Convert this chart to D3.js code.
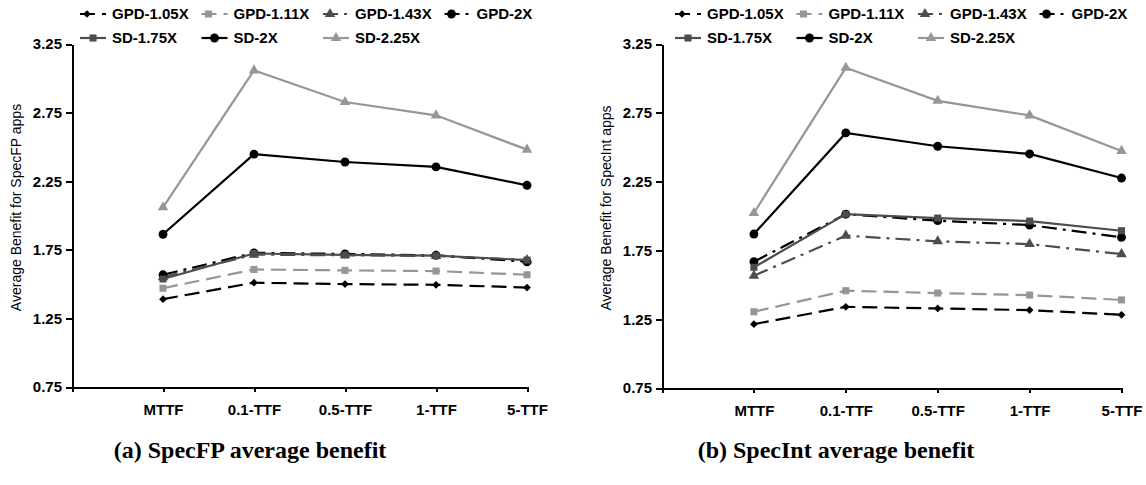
<!DOCTYPE html>
<html>
<head>
<meta charset="utf-8">
<script src="https://cdn.jsdelivr.net/npm/d3@7"></script>
<style>
    body { margin: 0; background: #fff; }
    svg text { font-family: 'Liberation Sans', Arial, sans-serif; fill: #000; }
    .axis path, .axis line { stroke: #000; stroke-width: 2px; shape-rendering: crispEdges; }
    .axis text { font-size: 15px; font-weight: bold; }
    .legendText { font-size: 15px; font-weight: bold; }
    .yLabel { font-size: 14px; }
    .caption { font-family: 'Liberation Serif', 'Times New Roman', serif !important; font-size: 24px; font-weight: bold; }
</style>
</head>
<body>
<div id="chart"></div>
<script>
'use strict';

// Categories and ticks
const categories = ['MTTF', '0.1-TTF', '0.5-TTF', '1-TTF', '5-TTF'];
const yTicks = [0.75, 1.25, 1.75, 2.25, 2.75, 3.25];
const seriesNames = ['GPD-1.05X', 'GPD-1.11X', 'GPD-1.43X', 'GPD-2X', 'SD-1.75X', 'SD-2X', 'SD-2.25X'];

// SpecFP values
const fpGpd105 = [1.39, 1.51, 1.50, 1.495, 1.475];
const fpGpd111 = [1.47, 1.607, 1.60, 1.595, 1.568];
const fpGpd143 = [1.55, 1.715, 1.71, 1.705, 1.675];
const fpGpd2 = [1.568, 1.728, 1.72, 1.71, 1.663];
const fpSd175 = [1.537, 1.723, 1.713, 1.707, 1.675];
const fpSd2 = [1.863, 2.447, 2.39, 2.354, 2.22];
const fpSd225 = [2.06, 3.058, 2.827, 2.73, 2.48];

// SpecInt values
const intGpd105 = [1.214, 1.34, 1.328, 1.316, 1.282];
const intGpd111 = [1.304, 1.457, 1.44, 1.425, 1.39];
const intGpd143 = [1.566, 1.857, 1.816, 1.796, 1.723];
const intGpd2 = [1.668, 2.013, 1.966, 1.934, 1.845];
const intSd175 = [1.627, 2.014, 1.985, 1.963, 1.893];
const intSd2 = [1.869, 2.604, 2.507, 2.451, 2.276];
const intSd225 = [2.022, 3.077, 2.837, 2.731, 2.473];

// Look of each series
const styles = {
    'GPD-1.05X': {color: '#000', dash: '15,7', symbol: 'diamond'},
    'GPD-1.11X': {color: '#969696', dash: '15,7', symbol: 'square'},
    'GPD-1.43X': {color: '#4d4d4d', dash: '15,6,3,6', symbol: 'triangle'},
    'GPD-2X': {color: '#000', dash: '15,6,3,6', symbol: 'circle'},
    'SD-1.75X': {color: '#4d4d4d', dash: null, symbol: 'square'},
    'SD-2X': {color: '#000', dash: null, symbol: 'circle'},
    'SD-2.25X': {color: '#969696', dash: null, symbol: 'triangle'}
};

class Panel {

    constructor(_svg, _values, _config) {
        this.svg = _svg;
        this.series = seriesNames.map((name, i) => ({name: name, values: _values[i]}));
        this.config = _config;

        this.initVis();
    }

    initVis() {
        // Get this vis
        const vis = this;
        const c = vis.config;

        vis.g = vis.svg.append('g');

        // Scales (index 0 is the empty slot at the y axis)
        vis.xScale = d3.scaleLinear()
            .domain([0, categories.length])
            .range([c.left, c.right]);
        vis.yScale = d3.scaleLinear()
            .domain([0.75, 3.25])
            .range([c.bottom, c.top]);

        // Symbols
        vis.symbols = {
            diamond: d3.symbol().type(d3.symbolSquare).size(30),
            square: d3.symbol().type(d3.symbolSquare).size(50),
            triangle: d3.symbol().type(d3.symbolTriangle).size(48),
            circle: d3.symbol().type(d3.symbolCircle).size(62)
        };

        vis.drawAxes();
        vis.drawLines();
        vis.drawLegend();
    }

    drawAxes() {
        // Get this vis
        const vis = this;
        const c = vis.config;

        // x axis
        const xAxis = d3.axisBottom(vis.xScale)
            .tickValues(d3.range(0, categories.length + 1))
            .tickSize(5)
            .tickSizeOuter(0)
            .tickPadding(12)
            .tickFormat(i => i === 0 ? '' : categories[i - 1]);
        vis.g.append('g')
            .attr('class', 'axis')
            .attr('transform', `translate(0, ${c.bottom})`)
            .call(xAxis);

        // y axis
        const yAxis = d3.axisLeft(vis.yScale)
            .tickValues(yTicks)
            .tickSize(6)
            .tickSizeOuter(0)
            .tickPadding(4)
            .tickFormat(d3.format('.2f'));
        vis.g.append('g')
            .attr('class', 'axis')
            .attr('transform', `translate(${c.left}, 0)`)
            .call(yAxis);

        // y label
        vis.g.append('text')
            .attr('class', 'yLabel')
            .attr('transform', `translate(${c.left - 51}, ${(c.top + c.bottom) / 2 - 8}) rotate(-90)`)
            .attr('text-anchor', 'middle')
            .text(c.yLabel);

        // Caption
        vis.g.append('text')
            .attr('class', 'caption')
            .attr('x', c.captionX)
            .attr('y', 458)
            .attr('text-anchor', 'middle')
            .text(c.caption);
    }

    drawLines() {
        // Get this vis
        const vis = this;

        const lineMaker = d3.line()
            .x((d, i) => vis.xScale(i + 1))
            .y(d => vis.yScale(d));

        const sG = vis.g.selectAll('.seriesG')
            .data(vis.series)
            .join('g')
            .attr('class', 'seriesG');

        sG.append('path')
            .attr('d', d => lineMaker(d.values))
            .attr('fill', 'none')
            .attr('stroke', d => styles[d.name].color)
            .attr('stroke-width', 2.2)
            .attr('stroke-dasharray', d => styles[d.name].dash);

        sG.selectAll('.marker')
            .data(d => d.values.map((v, i) => ({name: d.name, v: v, i: i})))
            .join('path')
            .attr('class', 'marker')
            .attr('d', d => vis.symbols[styles[d.name].symbol]())
            .attr('fill', d => styles[d.name].color)
            .attr('transform', d => `translate(${vis.xScale(d.i + 1)}, ${vis.yScale(d.v)})` +
                (styles[d.name].symbol === 'diamond' ? ' rotate(45)' : ''));
    }

    drawLegend() {
        // Get this vis
        const vis = this;
        const c = vis.config;

        const items = vis.g.selectAll('.legendG')
            .data(vis.series)
            .join('g')
            .attr('class', 'legendG')
            .attr('transform', (d, i) => {
                const row = i < 4 ? 0 : 1;
                const col = i < 4 ? i : i - 4;
                return `translate(${c.legendX + col * 121.5}, ${14 + row * 24})`;
            });

        items.append('line')
            .attr('x1', 0)
            .attr('x2', 26)
            .attr('stroke', d => styles[d.name].color)
            .attr('stroke-width', 2.2)
            .attr('stroke-dasharray', d => styles[d.name].dash);

        items.append('path')
            .attr('d', d => vis.symbols[styles[d.name].symbol]())
            .attr('fill', d => styles[d.name].color)
            .attr('transform', d => `translate(${styles[d.name].dash ? 7 : 13}, 0)` +
                (styles[d.name].symbol === 'diamond' ? ' rotate(45)' : ''));

        items.append('text')
            .attr('class', 'legendText')
            .attr('x', 32)
            .attr('dy', '0.35em')
            .text(d => d.name);
    }
}

// Build svg
const svg = d3.select('#chart')
    .append('svg')
    .attr('width', 1146)
    .attr('height', 485);

svg.append('rect')
    .attr('width', 1146)
    .attr('height', 485)
    .attr('fill', '#fff');

new Panel(svg, [fpGpd105, fpGpd111, fpGpd143, fpGpd2, fpSd175, fpSd2, fpSd225], {
    left: 72, right: 527, top: 44, bottom: 387,
    legendX: 80, captionX: 250,
    yLabel: 'Average Benefit for SpecFP apps',
    caption: '(a) SpecFP average benefit'
});

new Panel(svg, [intGpd105, intGpd111, intGpd143, intGpd2, intSd175, intSd2, intSd225], {
    left: 662, right: 1121.5, top: 44, bottom: 388,
    legendX: 675, captionX: 836,
    yLabel: 'Average Benefit for SpecInt apps',
    caption: '(b) SpecInt average benefit'
});
</script>
</body>
</html>
